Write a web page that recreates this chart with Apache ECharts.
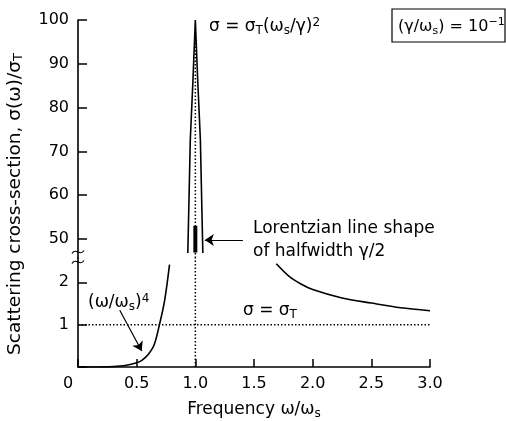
<!DOCTYPE html>
<html>
<head>
<meta charset="utf-8">
<script src="https://cdn.jsdelivr.net/npm/echarts@6/dist/echarts.min.js"></script>
<style>html,body{margin:0;padding:0;background:#fff;}#c{width:506px;height:421px;}</style>
</head>
<body>
<div id="c"></div>
<script>
// ---- data ----
const xTicks = [0, 0.5, 1.0, 1.5, 2.0, 2.5, 3.0];
const upperTicks = [50, 60, 70, 80, 90, 100];
const lowerTicks = [0, 1, 2];
const lowerLabels = [1, 2];
// low-frequency (Rayleigh) branch
const lowX = [0, 0.1, 0.2, 0.3, 0.4, 0.5, 0.55, 0.6, 0.65, 0.7, 0.74, 0.78];
const lowY = [0, 0.0001, 0.0017, 0.01, 0.036, 0.1, 0.17, 0.3, 0.53, 1.07, 1.6, 2.42];
// high-frequency branch
const highX = [1.69, 1.8, 1.9, 2.0, 2.25, 2.5, 2.75, 3.0];
const highY = [2.44, 2.14, 1.96, 1.83, 1.63, 1.51, 1.40, 1.33];
// resonance peak
const peakX = [0.936, 0.957, 0.979, 1.0, 1.021, 1.043, 1.064];
const peakY = [46.8, 72.6, 85.8, 100, 85.8, 72.6, 46.8];
// thick Lorentzian bar
const barX = [1.0, 1.0];
const barY = [46.9, 53.0];
const sigmaT = 1;
const resonance = 1.0;
// arrows [fromX, fromY, toX, toY]
const arrowLow = [0.356, 1.34, 0.543, 0.38];
const arrowPeak = [1.405, 49.77, 1.081, 49.77];

const FONT = 'DejaVu Sans';
const upperMin = 45.66, upperMax = 100, lowerMin = 0, lowerMax = 2.575;

function pairs(xs, ys) { return xs.map((x, i) => [x, ys[i]]); }
function mkRich(fs) {
  return {
    n: { fontFamily: FONT, fontSize: fs, color: '#000', lineHeight: 20 },
    sub: { fontFamily: FONT, fontSize: Math.round(fs * 0.7), color: '#000', lineHeight: 10, verticalAlign: 'bottom' },
    sup: { fontFamily: FONT, fontSize: Math.round(fs * 0.7), color: '#000', lineHeight: 10, verticalAlign: 'top' }
  };
}
const rich16 = mkRich(16), rich17 = mkRich(17), rich18 = mkRich(18.5);
const axisLine = { lineStyle: { color: '#000', width: 1.6 } };
const dotted = { color: '#000', width: 1.5, type: [1.5, 2] };
const solid = { color: '#000', width: 1.6 };

const chart = echarts.init(document.getElementById('c'), null, { renderer: 'canvas' });
chart.setOption({
  animation: false,
  backgroundColor: '#fff',
  grid: [
    { left: 78, right: 76, top: 20, height: 238 },
    { left: 78, right: 76, top: 258, height: 112 }
  ],
  xAxis: [
    { gridIndex: 0, type: 'value', min: 0, max: 3, show: false },
    { gridIndex: 1, type: 'value', min: xTicks[0], max: xTicks[xTicks.length - 1], interval: 0.5,
      axisLine: axisLine, splitLine: { show: false },
      axisTick: { inside: true, length: 8, lineStyle: { color: '#000', width: 1.5 } },
      axisLabel: { margin: 9, color: '#000', fontFamily: FONT, fontSize: 16,
        formatter: v => v === 0 ? '{z|0}' : v.toFixed(1),
        rich: { z: { fontFamily: FONT, fontSize: 16, color: '#000', padding: [0, 20, 6, 0] } } },
      name: '{n|Frequency ω/ω}{sub|s}', nameLocation: 'middle', nameGap: 33,
      nameTextStyle: { fontFamily: FONT, fontSize: 17, color: '#000', rich: rich17 }
    }
  ],
  yAxis: [
    { gridIndex: 0, type: 'value', min: upperMin, max: upperMax,
      axisLine: { show: true, lineStyle: { color: '#000', width: 1.6 } }, splitLine: { show: false },
      axisTick: { inside: true, length: 9, customValues: upperTicks, lineStyle: { color: '#000', width: 1.5 } },
      axisLabel: { margin: 9, color: '#000', fontFamily: FONT, fontSize: 16, customValues: upperTicks } },
    { gridIndex: 1, type: 'value', min: lowerMin, max: lowerMax,
      axisLine: { show: true, lineStyle: { color: '#000', width: 1.6 } }, splitLine: { show: false },
      axisTick: { inside: true, length: 9, customValues: lowerTicks, lineStyle: { color: '#000', width: 1.5 } },
      axisLabel: { margin: 9, color: '#000', fontFamily: FONT, fontSize: 16, customValues: lowerLabels } }
  ],
  series: [
    { type: 'line', xAxisIndex: 1, yAxisIndex: 1, data: [[0, sigmaT], [3, sigmaT]], symbol: 'none', lineStyle: dotted, silent: true },
    { type: 'line', xAxisIndex: 1, yAxisIndex: 1, data: [[resonance, lowerMin], [resonance, lowerMax]], symbol: 'none', lineStyle: dotted, silent: true },
    { type: 'line', xAxisIndex: 0, yAxisIndex: 0, data: [[resonance, upperMin], [resonance, 97]], symbol: 'none', lineStyle: dotted, silent: true },
    { type: 'line', xAxisIndex: 1, yAxisIndex: 1, data: pairs(lowX, lowY), symbol: 'none', smooth: 0.3, lineStyle: solid, silent: true,
      markLine: { silent: true, symbol: ['none', 'arrow'], symbolSize: 9, label: { show: false },
        lineStyle: { color: '#000', width: 1.2, type: 'solid' },
        data: [[{ coord: [arrowLow[0], arrowLow[1]] }, { coord: [arrowLow[2], arrowLow[3]] }]] } },
    { type: 'line', xAxisIndex: 1, yAxisIndex: 1, data: pairs(highX, highY), symbol: 'none', smooth: 0.3, lineStyle: solid, silent: true },
    { type: 'line', xAxisIndex: 0, yAxisIndex: 0, data: pairs(peakX, peakY), symbol: 'none', lineStyle: solid, silent: true,
      markLine: { silent: true, symbol: ['none', 'arrow'], symbolSize: 9, label: { show: false },
        lineStyle: { color: '#000', width: 1.2, type: 'solid' },
        data: [[{ coord: [arrowPeak[0], arrowPeak[1]] }, { coord: [arrowPeak[2], arrowPeak[3]] }]] } },
    { type: 'line', xAxisIndex: 0, yAxisIndex: 0, data: pairs(barX, barY), symbol: 'none', lineStyle: { color: '#000', width: 4 }, silent: true }
  ],
  graphic: [
    { type: 'text', x: 15, y: 204, rotation: Math.PI / 2,
      style: { text: '{n|Scattering cross-section, σ(ω)/σ}{sub|T}', rich: rich18, align: 'center', verticalAlign: 'middle' } },
    { type: 'text', x: 209, y: 27,
      style: { text: '{n|σ = σ}{sub|T}{n|(ω}{sub|s}{n|/γ)}{sup|2}', rich: rich17, align: 'left', verticalAlign: 'middle' } },
    { type: 'rect', shape: { x: 392, y: 9, width: 113, height: 33 }, style: { fill: 'none', stroke: '#000', lineWidth: 1.2 } },
    { type: 'text', x: 398, y: 27,
      style: { text: '{n|(γ/ω}{sub|s}{n|) = 10}{sup|−1}', rich: rich16, align: 'left', verticalAlign: 'middle' } },
    { type: 'text', x: 253, y: 229,
      style: { text: '{n|Lorentzian line shape}', rich: rich17, align: 'left', verticalAlign: 'middle' } },
    { type: 'text', x: 253, y: 252,
      style: { text: '{n|of halfwidth γ/2}', rich: rich17, align: 'left', verticalAlign: 'middle' } },
    { type: 'text', x: 243, y: 311,
      style: { text: '{n|σ = σ}{sub|T}', rich: rich17, align: 'left', verticalAlign: 'middle' } },
    { type: 'text', x: 88, y: 303,
      style: { text: '{n|(ω/ω}{sub|s}{n|)}{sup|4}', rich: rich17, align: 'left', verticalAlign: 'middle' } },
    { type: 'bezierCurve', shape: { x1: 72, y1: 253.5, cpx1: 76, cpy1: 247, cpx2: 80, cpy2: 257, x2: 84, y2: 250.5 },
      style: { stroke: '#000', lineWidth: 1.3, fill: 'none' } },
    { type: 'bezierCurve', shape: { x1: 72, y1: 263.5, cpx1: 76, cpy1: 257, cpx2: 80, cpy2: 267, x2: 84, y2: 260.5 },
      style: { stroke: '#000', lineWidth: 1.3, fill: 'none' } }
  ]
});
</script>
</body>
</html>
